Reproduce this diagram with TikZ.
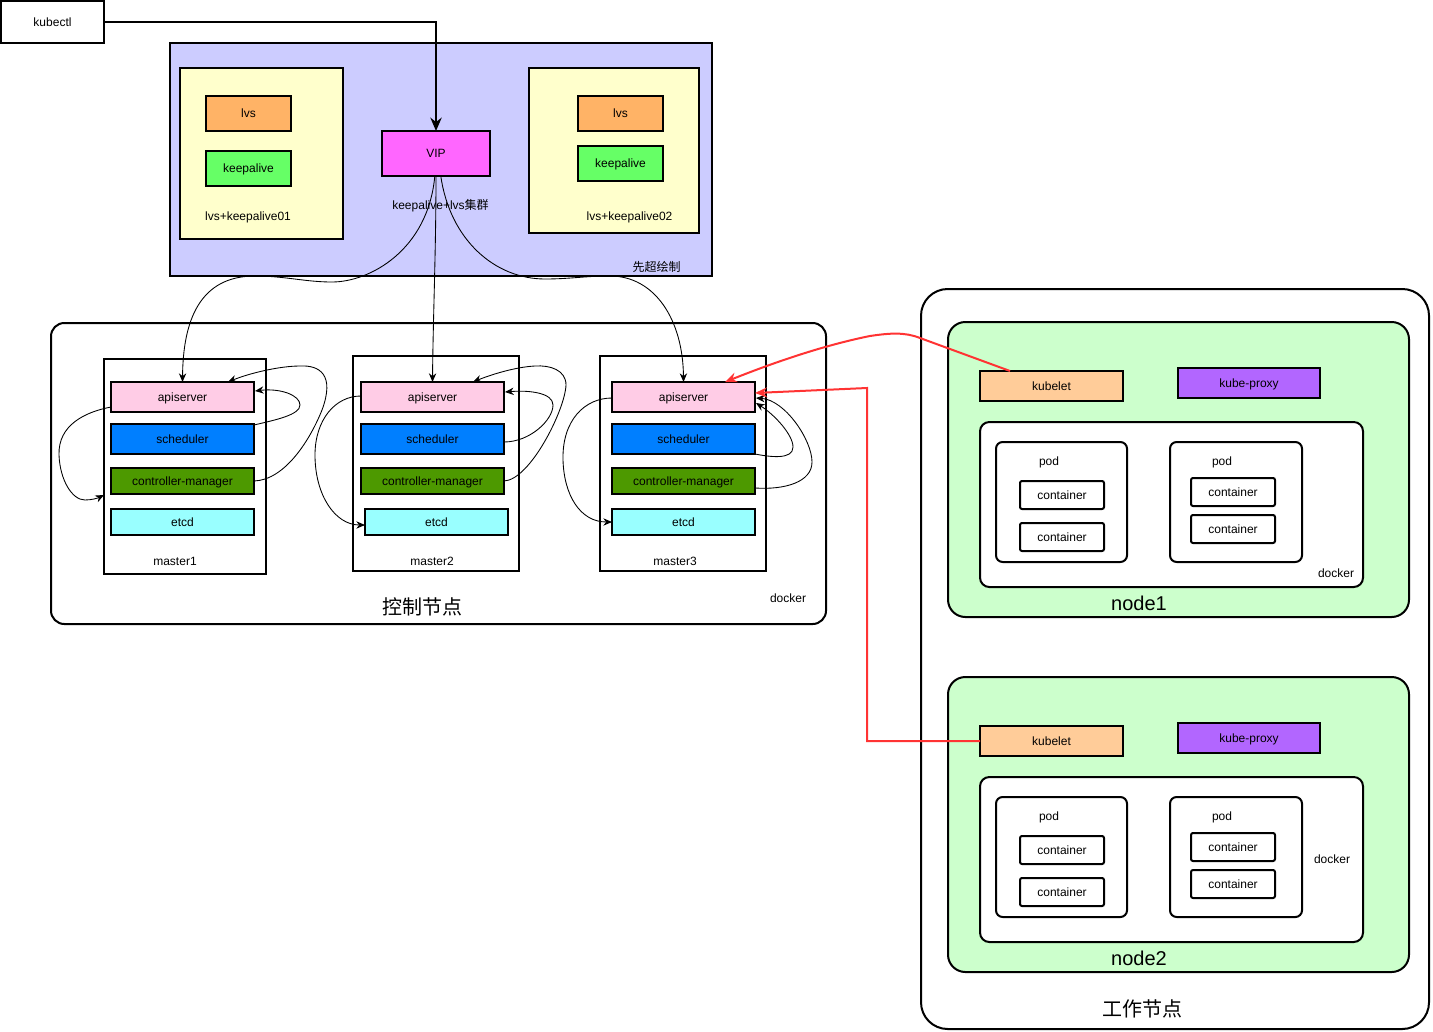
\documentclass[tikz,border=0pt]{standalone}
\usepackage{fontspec}
\setmainfont{Liberation Sans}
\newfontfamily\cjk{Noto Sans CJK SC}
\usepackage{tikz}
\usetikzlibrary{positioning,arrows.meta,calc}

\def\px{0.75pt}
\definecolor{clusterbg}{HTML}{CCCCFF}
\definecolor{lvsbg}{HTML}{FFFFCC}
\definecolor{lvscol}{HTML}{FFB366}
\definecolor{keepcol}{HTML}{66FF66}
\definecolor{vipcol}{HTML}{FF66FF}
\definecolor{apicol}{HTML}{FFCCE6}
\definecolor{schedcol}{HTML}{007FFF}
\definecolor{cmcol}{HTML}{4D9900}
\definecolor{etcdcol}{HTML}{99FFFF}
\definecolor{nodebg}{HTML}{CCFFCC}
\definecolor{kubeletcol}{HTML}{FFCC99}
\definecolor{proxycol}{HTML}{B266FF}
\definecolor{linkred}{HTML}{FF3333}

\tikzset{
  boxed/.style={draw=black, line width=1.5pt, inner sep=0pt, outer sep=0pt, text height=8pt, text depth=1.5pt, font=\fontsize{9}{11}\selectfont},
  lbl/.style={inner sep=0pt, text height=7.5pt, text depth=1.5pt, font=\fontsize{9}{11}\selectfont},
  biglbl/.style={inner sep=0pt, font=\fontsize{15}{18}\selectfont},
  link/.style={line width=0.65pt, -{Stealth[length=6.5pt,width=5.5pt]}},
  redlink/.style={draw=linkred, line width=1.5pt, -{Stealth[length=9pt,width=7.5pt]}}
}
% box from its top left corner, with width and height in pixels
\newcommand{\pxbox}[7]{\node[boxed, #1, anchor=north west, minimum width=#5*\px, minimum height=#6*\px] (#2) at (#3,#4) {#7};}

\begin{document}
\begin{tikzpicture}[x=0.75pt,y=-0.75pt]
  \useasboundingbox (0,0) rectangle (1433,1031);

  % top: kubectl and the lvs cluster
  \pxbox{fill=clusterbg}{cluster}{170}{43}{542}{233}{}
  \pxbox{fill=lvsbg}{lvsboxa}{180}{68}{163}{171}{}
  \pxbox{fill=lvsbg}{lvsboxb}{529}{68}{170}{165}{}
  \pxbox{fill=lvscol}{lvsa}{206}{96}{85}{35}{lvs}
  \pxbox{fill=keepcol}{keepa}{206}{151}{85}{35}{keepalive}
  \pxbox{fill=lvscol}{lvsb}{578}{96}{85}{35}{lvs}
  \pxbox{fill=keepcol}{keepb}{578}{146}{85}{35}{keepalive}
  \pxbox{fill=vipcol}{vip}{382}{131}{108}{45}{VIP}
  \pxbox{fill=white}{kubectl}{1}{1}{103}{42}{kubectl}
  \node[lbl] (lvsnamea) at (248,216) {lvs+keepalive01};
  \node[lbl] (lvsnameb) at (629.5,216) {lvs+keepalive02};
  \node[lbl] (clustername) at (440.5,205) {keepalive+lvs{\cjk 集群}};
  \node[lbl] (drawer) at (656.5,267) {{\cjk 先超绘制}};

  % control plane
  \pxbox{fill=white, rounded corners=10pt}{control}{51}{323}{775}{301}{}
  \node[biglbl] (controlname) at (422,607) {{\cjk 控制节点}};
  \node[lbl] (dockerc) at (788,598) {docker};
  \pxbox{fill=white}{master1}{104}{359}{162}{215}{}
  \pxbox{fill=white}{master2}{353}{356}{166}{215}{}
  \pxbox{fill=white}{master3}{600}{356}{166}{215}{}
  \foreach \i/\mx/\ex/\lx in {1/111/111/175,2/361/365/432,3/612/612/675} {
    \pxbox{fill=apicol}{api\i}{\mx}{382}{143}{30}{apiserver}
    \pxbox{fill=schedcol}{sched\i}{\mx}{424}{143}{30}{scheduler}
    \pxbox{fill=cmcol}{cm\i}{\mx}{468}{143}{26}{controller-manager}
    \pxbox{fill=etcdcol}{etcd\i}{\ex}{509}{143}{26}{etcd}
    \node[lbl] (mastername\i) at (\lx,561) {master\i};
  }

  % worker plane
  \pxbox{fill=white, rounded corners=20pt}{worker}{921}{289}{508}{740}{}
  \node[biglbl] (workername) at (1142,1009) {{\cjk 工作节点}};
  \foreach \n/\dy/\dx/\dly in {1/0/1336/573,2/355/1332/859} {
    \pxbox{fill=nodebg, rounded corners=13pt}{node\n}{948}{322+\dy}{461}{295}{}
    \node[biglbl] (nodename\n) at (1139,{603+\dy}) {node\n};
    \pxbox{fill=kubeletcol}{kubelet\n}{980}{371+\dy}{143}{30}{kubelet}
    \pxbox{fill=proxycol}{proxy\n}{1178}{368+\dy}{142}{30}{kube-proxy}
    \pxbox{fill=white, rounded corners=7pt}{dock\n}{980}{422+\dy}{383}{165}{}
    \node[lbl] (dockname\n) at (\dx,\dly) {docker};
    \pxbox{fill=white, rounded corners=5pt}{poda\n}{996}{442+\dy}{131}{120}{}
    \pxbox{fill=white, rounded corners=5pt}{podb\n}{1170}{442+\dy}{132}{120}{}
    \node[lbl] (podnamea\n) at (1049,{461+\dy}) {pod};
    \node[lbl] (podnameb\n) at (1222,{461+\dy}) {pod};
    \pxbox{fill=white, rounded corners=1.5pt}{conta\n}{1020}{481+\dy}{84}{28}{container}
    \pxbox{fill=white, rounded corners=1.5pt}{contb\n}{1020}{523+\dy}{84}{28}{container}
    \pxbox{fill=white, rounded corners=1.5pt}{contc\n}{1191}{478+\dy}{84}{28}{container}
    \pxbox{fill=white, rounded corners=1.5pt}{contd\n}{1191}{515+\dy}{84}{28}{container}
  }

  % kubectl to the vip
  \draw[line width=1.5pt, -{Stealth[length=10pt,width=8.5pt]}] (kubectl.east) -| (vip.north);

  % vip to the three apiservers
  \draw[link] (vip.-93) .. controls (428,250) and (370,282) .. (332,282)
    .. controls (305,282) and (285,276) .. (255,276)
    .. controls (200,276) and (183,320) .. (api1.north);
  \draw[link] (vip.south) .. controls (436,250) and (433,320) .. (api2.north);
  \draw[link] (vip.-78) .. controls (450,240) and (495,279) .. (545,279)
    .. controls (570,279) and (585,276) .. (610,276)
    .. controls (655,276) and (683,320) .. (api3.north);

  % master1
  \coordinate (apiina) at (228,382);
  \coordinate (apiinb) at (255,391);
  \coordinate (schedouta) at (254,425);
  \coordinate (apiouta) at (111,407);
  \coordinate (masterina) at (104,495);
  \draw[link] (cm1.east) .. controls (285,480) and (310,440) .. (322,410)
    .. controls (335,375) and (320,365) .. (300,366)
    .. controls (280,366) and (250,373) .. (apiina);
  \draw[link] (schedouta) .. controls (275,420) and (300,415) .. (300,405)
    .. controls (300,395) and (280,388) .. (apiinb);
  \draw[link] (apiouta) .. controls (85,412) and (58,425) .. (59,455)
    .. controls (60,480) and (72,500) .. (85,500)
    .. controls (92,500) and (98,498) .. (masterina);

  % master2
  \coordinate (apiinc) at (473,382);
  \coordinate (apiind) at (505,392);
  \coordinate (schedoutb) at (504,442);
  \coordinate (apioutb) at (361,396);
  \coordinate (etcdinb) at (365,525);
  \draw[link] (cm2.east) .. controls (530,480) and (565,410) .. (566,385)
    .. controls (566,370) and (550,365) .. (535,366)
    .. controls (515,367) and (490,375) .. (apiinc);
  \draw[link] (schedoutb) .. controls (530,442) and (553,420) .. (553,405)
    .. controls (553,393) and (530,390) .. (apiind);
  \draw[link] (apioutb) .. controls (335,396) and (315,420) .. (315,455)
    .. controls (315,495) and (335,525) .. (etcdinb);

  % master3
  \coordinate (apiine) at (756,403);
  \coordinate (apiinf) at (756,398);
  \coordinate (schedoutc) at (755,454);
  \coordinate (cmoutc) at (755,488);
  \coordinate (apioutc) at (612,398);
  \draw[link] (schedoutc) .. controls (770,457) and (793,460) .. (793,447)
    .. controls (793,435) and (775,415) .. (apiine);
  \draw[link] (cmoutc) .. controls (785,490) and (812,482) .. (812,462)
    .. controls (812,440) and (785,400) .. (apiinf);
  \draw[link] (apioutc) .. controls (585,398) and (562,420) .. (563,460)
    .. controls (564,495) and (580,522) .. (etcd3.west);

  % kubelets to master3
  \coordinate (kubeletouta) at (1010,371);
  \coordinate (bendt) at (920,338);
  \coordinate (apired) at (725,382);
  \coordinate (bendu) at (867,741);
  \coordinate (bendv) at (867,388);
  \coordinate (apiredb) at (755,393);
  \draw[redlink] (kubeletouta) -- (bendt) .. controls (905,332) and (890,333) .. (870,336)
    .. controls (825,345) and (775,362) .. (apired);
  \draw[redlink] (kubelet2.west) -- (bendu) -- (bendv) -- (apiredb);
\end{tikzpicture}
\end{document}
